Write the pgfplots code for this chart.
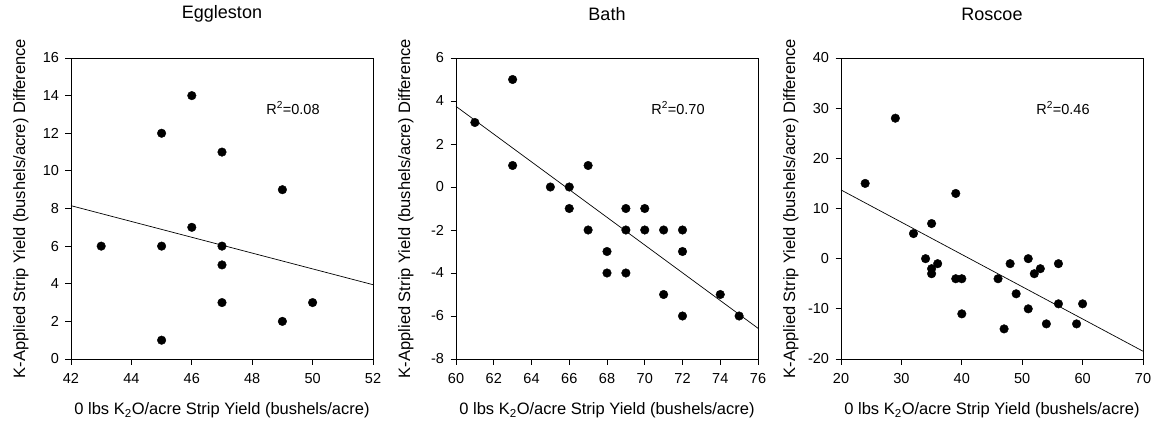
\documentclass[border=0pt]{standalone}
\usepackage{fontspec}
\setmainfont{Liberation Sans}
\usepackage{pgfplots}
\pgfplotsset{compat=1.18}
\begin{document}
\begin{tikzpicture}[x=1pt,y=1pt]
\useasboundingbox (-71pt,-64pt) rectangle (1082pt,359pt);
\pgfplotsset{
 myax/.style={
  scale only axis, width=302pt, height=301pt,
  axis line style={black, line width=0.8pt},
  every tick/.style={black, line width=0.8pt},
  tick align=outside, tickpos=left, major tick length=5.5pt,
  minor tick num=0,
  /pgf/number format/assume math mode=true,
  xticklabel style={font=\fontsize{14.5}{16}\selectfont, yshift=-5pt},
  yticklabel style={font=\fontsize{14.5}{16}\selectfont, xshift=-3pt},
  title style={font=\fontsize{18}{21}\selectfont, at={(axis description cs:0.5,1.126)}, anchor=center},
  xlabel style={font=\fontsize{16.5}{19}\selectfont, at={(axis description cs:0.5,-0.17)}, anchor=center},
  ylabel style={font=\fontsize{16.5}{19}\selectfont, at={(axis description cs:-0.166,0.5)}, anchor=center, rotate=0},
  xlabel={0 lbs K\textsubscript{2}O/acre Strip Yield (bushels/acre)},
  ylabel={K-Applied Strip Yield (bushels/acre) Difference},
  clip=false,
 },
 dots/.style={only marks, mark=*, mark size=4.3pt, black},
 fit/.style={black, line width=0.7pt, no marks},
}
\begin{axis}[myax, at={(0pt,0pt)}, anchor=south west, title={Eggleston},
  xmin=42, xmax=52, ymin=0, ymax=16, xtick={42,44,...,52}, ytick={0,2,...,16}]
\addplot[fit] coordinates {(42,8.15) (52,3.95)};
\addplot[dots] coordinates {(43,6) (45,12) (45,6) (45,1) (46,14) (46,7) (47,11) (47,6) (47,5) (47,3) (49,9) (49,2) (50,3)};
\node[anchor=west, font=\fontsize{14.5}{16}\selectfont] at (rel axis cs:0.635,0.834) {R\textsuperscript{2}=0.08};
\end{axis}
\begin{axis}[myax, at={(385pt,0pt)}, anchor=south west, title={Bath},
  xmin=60, xmax=76, ymin=-8, ymax=6, xtick={60,62,...,76}, ytick={-8,-6,...,6}]
\addplot[fit] coordinates {(60,3.75) (76,-6.57)};
\addplot[dots] coordinates {(61,3) (63,5) (63,1) (65,0) (66,0) (66,-1) (67,1) (67,-2) (68,-3) (68,-4) (69,-1) (69,-2) (69,-4) (70,-1) (70,-2) (71,-2) (71,-5) (72,-2) (72,-3) (72,-6) (74,-5) (75,-6)};
\node[anchor=west, font=\fontsize{14.5}{16}\selectfont] at (rel axis cs:0.635,0.834) {R\textsuperscript{2}=0.70};
\end{axis}
\begin{axis}[myax, at={(770pt,0pt)}, anchor=south west, title={Roscoe},
  xmin=20, xmax=70, ymin=-20, ymax=40, xtick={20,30,...,70}, ytick={-20,-10,...,40}]
\addplot[fit] coordinates {(20,13.7) (70,-18.45)};
\addplot[dots] coordinates {(24,15) (29,28) (32,5) (34,0) (35,7) (35,-2) (35,-3) (36,-1) (39,13) (39,-4) (40,-4) (40,-11) (46,-4) (47,-14) (48,-1) (49,-7) (51,0) (51,-10) (52,-3) (53,-2) (54,-13) (56,-1) (56,-9) (59,-13) (60,-9)};
\node[anchor=west, font=\fontsize{14.5}{16}\selectfont] at (rel axis cs:0.635,0.834) {R\textsuperscript{2}=0.46};
\end{axis}
\end{tikzpicture}
\end{document}
